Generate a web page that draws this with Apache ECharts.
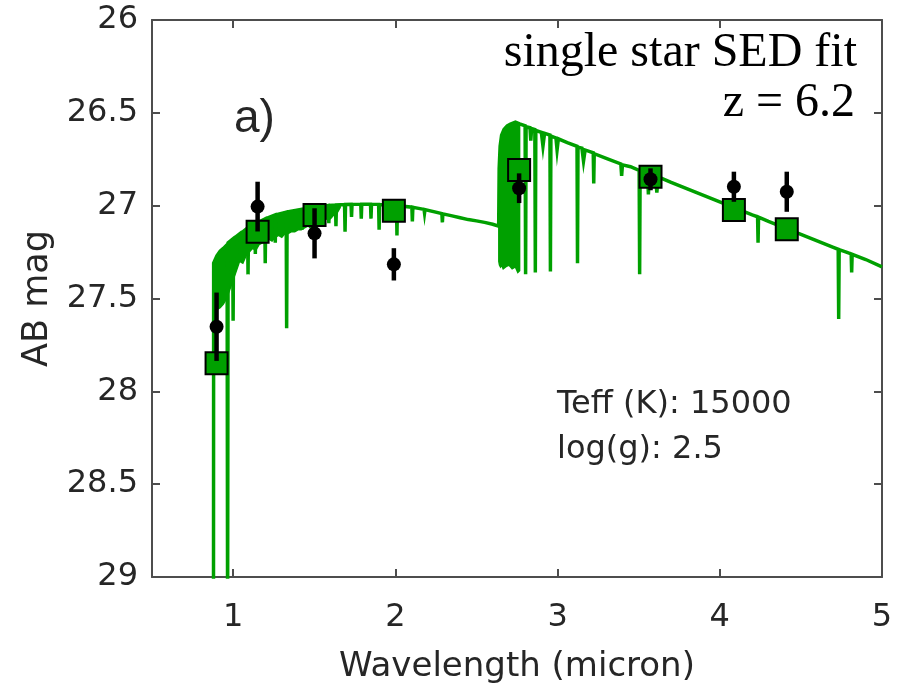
<!DOCTYPE html>
<html>
<head>
<meta charset="utf-8">
<script src="https://cdn.jsdelivr.net/npm/echarts@6/dist/echarts.min.js"></script>
<style>
  html, body { margin: 0; padding: 0; background: #fff; }
  #chart { width: 912px; height: 690px; }
</style>
</head>
<body>
<div id="chart"></div>
<script>
// Photometric filters: central wavelength (micron)
const filterWave = [0.898, 1.151, 1.502, 1.991, 2.763, 3.573, 4.087, 4.413];
// Observed AB magnitudes and 1-sigma errors
const obsMag = [27.652, 27.005, 27.149, 27.316, 26.906, 26.858, 26.898, 26.925];
const obsErr = [0.184, 0.134, 0.135, 0.087, 0.080, 0.059, 0.081, 0.108];
// Synthetic photometry of the best-fit stellar model
const modelMag = [27.849, 27.140, 27.050, 27.027, 26.808, 26.844, 27.023, 27.127];

// Model continuum with its stronger absorption lines: [wavelength (micron), AB mag]
const spectrum = [
  [0.879, 29.3], [0.880, 27.31], [0.900, 27.27], [0.920, 27.245], [0.940, 27.23],
  [0.963, 27.21], [0.966, 29.3], [0.969, 27.20], [0.997, 27.18], [1.000, 27.62],
  [1.003, 27.178], [1.041, 27.152], [1.044, 27.26], [1.047, 27.15], [1.089, 27.12],
  [1.092, 27.37], [1.095, 27.118], [1.134, 27.098], [1.137, 27.26], [1.140, 27.096],
  [1.195, 27.072], [1.198, 27.31], [1.201, 27.07], [1.257, 27.051], [1.260, 27.20],
  [1.263, 27.05], [1.327, 27.035], [1.330, 27.66], [1.333, 27.034], [1.422, 27.02],
  [1.425, 27.13], [1.428, 27.019], [1.474, 27.011], [1.477, 27.12], [1.480, 27.01],
  [1.587, 26.999], [1.590, 27.095], [1.593, 26.999], [1.631, 26.997], [1.634, 27.11],
  [1.637, 26.996], [1.687, 26.994], [1.690, 27.14], [1.693, 26.994], [1.727, 26.993],
  [1.730, 27.06], [1.733, 26.993], [1.787, 26.992], [1.790, 27.07], [1.793, 26.992],
  [1.847, 26.992], [1.850, 27.07], [1.853, 26.992], [1.897, 26.993], [1.900, 27.13],
  [1.903, 26.994], [2.007, 27.00], [2.010, 27.16], [2.013, 27.00], [2.102, 27.008],
  [2.105, 27.085], [2.108, 27.009], [2.177, 27.02], [2.180, 27.04], [2.183, 27.021],
  [2.287, 27.043], [2.290, 27.09], [2.293, 27.044], [2.350, 27.055], [2.400, 27.065],
  [2.450, 27.075], [2.500, 27.082], [2.550, 27.09], [2.600, 27.10], [2.637, 27.11],
  [2.640, 26.80], [2.646, 26.68], [2.655, 26.62], [2.670, 26.59], [2.690, 26.57],
  [2.710, 26.56], [2.740, 26.55], [2.766, 26.56], [2.800, 26.57], [2.803, 27.37],
  [2.806, 26.575], [2.830, 26.58], [2.835, 26.65], [2.840, 26.585], [2.860, 26.59],
  [2.863, 27.36], [2.866, 26.595], [2.900, 26.605], [2.910, 26.68], [2.920, 26.61],
  [2.953, 26.62], [2.956, 27.355], [2.959, 26.625], [2.990, 26.635], [2.997, 26.70],
  [3.005, 26.64], [3.060, 26.66], [3.120, 26.68], [3.123, 27.31], [3.126, 26.685],
  [3.150, 26.69], [3.160, 26.76], [3.170, 26.70], [3.220, 26.715], [3.223, 26.88],
  [3.226, 26.72], [3.300, 26.745], [3.390, 26.775], [3.395, 26.84], [3.400, 26.78],
  [3.450, 26.79], [3.503, 26.81], [3.506, 27.37], [3.509, 26.812], [3.555, 26.825],
  [3.560, 26.94], [3.566, 26.83], [3.605, 26.84], [3.612, 26.93], [3.620, 26.845],
  [3.700, 26.875], [3.800, 26.91], [3.900, 26.945], [4.000, 26.98], [4.100, 27.015],
  [4.200, 27.05], [4.233, 27.06], [4.236, 27.20], [4.239, 27.062], [4.300, 27.085],
  [4.400, 27.12], [4.500, 27.155], [4.600, 27.19], [4.700, 27.225], [4.730, 27.235],
  [4.733, 27.61], [4.736, 27.237], [4.780, 27.25], [4.810, 27.26], [4.813, 27.36],
  [4.816, 27.262], [4.900, 27.29], [5.000, 27.33]
];

// Line-blanketed region redward of the Lyman break: upper and lower envelopes
const blanketWave = [0.880, 0.900, 0.920, 0.940, 0.960, 0.980, 1.000, 1.020, 1.040, 1.060,
  1.080, 1.100, 1.120, 1.140, 1.160, 1.180, 1.200, 1.220, 1.240, 1.260,
  1.280, 1.300, 1.320, 1.340, 1.360, 1.380, 1.400, 1.420, 1.440, 1.460,
  1.480, 1.500, 1.520, 1.540, 1.560, 1.580, 1.600, 1.620, 1.640, 1.660];
const blanketTop = [27.31, 27.27, 27.245, 27.23, 27.21, 27.195, 27.18, 27.165, 27.155, 27.14,
  27.125, 27.115, 27.105, 27.095, 27.09, 27.08, 27.07, 27.065, 27.06, 27.052,
  27.046, 27.04, 27.036, 27.033, 27.03, 27.027, 27.025, 27.02, 27.017, 27.014,
  27.011, 27.008, 27.006, 27.004, 27.002, 27.0, 26.998, 26.997, 26.996, 26.995];
const blanketBottom = [27.55, 27.56, 27.55, 27.53, 27.50, 27.45, 27.40, 27.35, 27.30, 27.31,
  27.27, 27.25, 27.23, 27.24, 27.21, 27.20, 27.20, 27.18, 27.19, 27.17,
  27.16, 27.17, 27.15, 27.15, 27.14, 27.14, 27.13, 27.13, 27.12, 27.11,
  27.11, 27.10, 27.09, 27.09, 27.08, 27.07, 27.07, 27.05, 27.04, 27.01];

// Crowded high-order Balmer lines just redward of the Balmer jump
const jumpWave = [2.638, 2.642, 2.648, 2.655, 2.665, 2.680, 2.700, 2.720, 2.740, 2.755, 2.766];
const jumpTop = [27.00, 26.75, 26.66, 26.62, 26.595, 26.575, 26.565, 26.558, 26.55, 26.553, 26.56];
const jumpBottom = [27.30, 27.32, 27.33, 27.32, 27.34, 27.33, 27.32, 27.34, 27.33, 27.36, 27.35];

const xTicks = [1, 2, 3, 4, 5];

const GREEN = '#00a000';
const AXIS = '#4d4d4d';
const TEXT = '#262626';
const SANS = 'DejaVu Sans';

const axisLine = { show: true, lineStyle: { color: AXIS, width: 2 } };
const tickStyle = { color: AXIS, width: 2 };

// Closed outline (upper edge left-to-right, lower edge back) in data units
function envelope(wave, top, bottom) {
  const pts = wave.map((w, i) => [w, top[i]]);
  for (let i = wave.length - 1; i >= 0; i--) pts.push([wave[i], bottom[i]]);
  return pts;
}
const envelopes = [
  envelope(blanketWave, blanketTop, blanketBottom),
  envelope(jumpWave, jumpTop, jumpBottom)
];

const chart = echarts.init(document.getElementById('chart'), null, { renderer: 'canvas' });

chart.setOption({
  animation: false,
  backgroundColor: '#ffffff',
  grid: { left: 152, right: 30, top: 20, bottom: 113, containLabel: false },
  xAxis: [
    {
      type: 'value', position: 'bottom', min: 0.5, max: 5,
      axisLine: axisLine,
      axisTick: { show: true, inside: true, length: 8, customValues: xTicks, lineStyle: tickStyle },
      axisLabel: { customValues: xTicks, fontSize: 32, color: TEXT, fontFamily: SANS, margin: 25 },
      splitLine: { show: false },
      name: 'Wavelength (micron)', nameLocation: 'middle', nameGap: 73,
      nameTextStyle: { fontSize: 34, color: TEXT, fontFamily: SANS }
    },
    {
      type: 'value', position: 'top', min: 0.5, max: 5,
      axisLine: axisLine,
      axisTick: { show: true, inside: true, length: 8, customValues: xTicks, lineStyle: tickStyle },
      axisLabel: { show: false },
      splitLine: { show: false }
    }
  ],
  yAxis: [
    {
      type: 'value', position: 'left', min: 26, max: 29, interval: 0.5, inverse: true,
      axisLine: axisLine,
      axisTick: { show: true, inside: true, length: 8, lineStyle: tickStyle },
      axisLabel: { fontSize: 32, color: TEXT, fontFamily: SANS, margin: 14 },
      splitLine: { show: false },
      name: 'AB mag', nameLocation: 'middle', nameGap: 92,
      nameTextStyle: { fontSize: 35, color: TEXT, fontFamily: SANS }
    },
    {
      type: 'value', position: 'right', min: 26, max: 29, interval: 0.5, inverse: true,
      axisLine: axisLine,
      axisTick: { show: true, inside: true, length: 8, lineStyle: tickStyle },
      axisLabel: { show: false },
      splitLine: { show: false }
    }
  ],
  series: [
    {
      name: 'line blanketing', type: 'custom',
      data: envelopes.map((e, i) => [i]),
      z: 2, clip: true,
      renderItem: function (params, api) {
        const pts = envelopes[api.value(0)].map(p => api.coord(p));
        return {
          type: 'polygon',
          shape: { points: pts },
          style: { fill: GREEN, stroke: GREEN, lineWidth: 1.5 }
        };
      }
    },
    {
      name: 'model spectrum', type: 'line', data: spectrum,
      xAxisIndex: 0, yAxisIndex: 0,
      showSymbol: false, clip: true, z: 2,
      lineStyle: { color: GREEN, width: 3.5, join: 'miter' }
    },
    {
      name: 'model photometry', type: 'scatter',
      data: filterWave.map((w, i) => [w, modelMag[i]]),
      symbol: 'rect', symbolSize: 22, z: 3,
      itemStyle: { color: GREEN, borderColor: '#000', borderWidth: 2, opacity: 1 }
    },
    {
      name: 'error bars', type: 'custom',
      data: filterWave.map((w, i) => [w, obsMag[i], obsErr[i]]),
      z: 4,
      renderItem: function (params, api) {
        const x = api.value(0), y = api.value(1), e = api.value(2);
        const p1 = api.coord([x, y - e]);
        const p2 = api.coord([x, y + e]);
        return {
          type: 'line',
          shape: { x1: p1[0], y1: p1[1], x2: p2[0], y2: p2[1] },
          style: { stroke: '#000', lineWidth: 4.5 }
        };
      }
    },
    {
      name: 'observed', type: 'scatter',
      data: filterWave.map((w, i) => [w, obsMag[i]]),
      symbol: 'circle', symbolSize: 14, z: 5,
      itemStyle: { color: '#000', opacity: 1 }
    }
  ],
  graphic: [
    { type: 'text', left: 234, top: 96, z: 10,
      style: { text: 'a)', font: '46px "Liberation Sans"', fill: TEXT } },
    { type: 'text', right: 55, top: 29, z: 10,
      style: { text: 'single star SED fit', font: '48px "Liberation Serif"', fill: '#000', align: 'right' } },
    { type: 'text', right: 57, top: 79, z: 10,
      style: { text: 'z = 6.2', font: '48px "Liberation Serif"', fill: '#000', align: 'right' } },
    { type: 'text', left: 557, top: 389, z: 10,
      style: { text: 'Teff (K): 15000', font: '32px "DejaVu Sans"', fill: TEXT } },
    { type: 'text', left: 557, top: 434, z: 10,
      style: { text: 'log(g): 2.5', font: '32px "DejaVu Sans"', fill: TEXT } }
  ]
});
</script>
</body>
</html>
